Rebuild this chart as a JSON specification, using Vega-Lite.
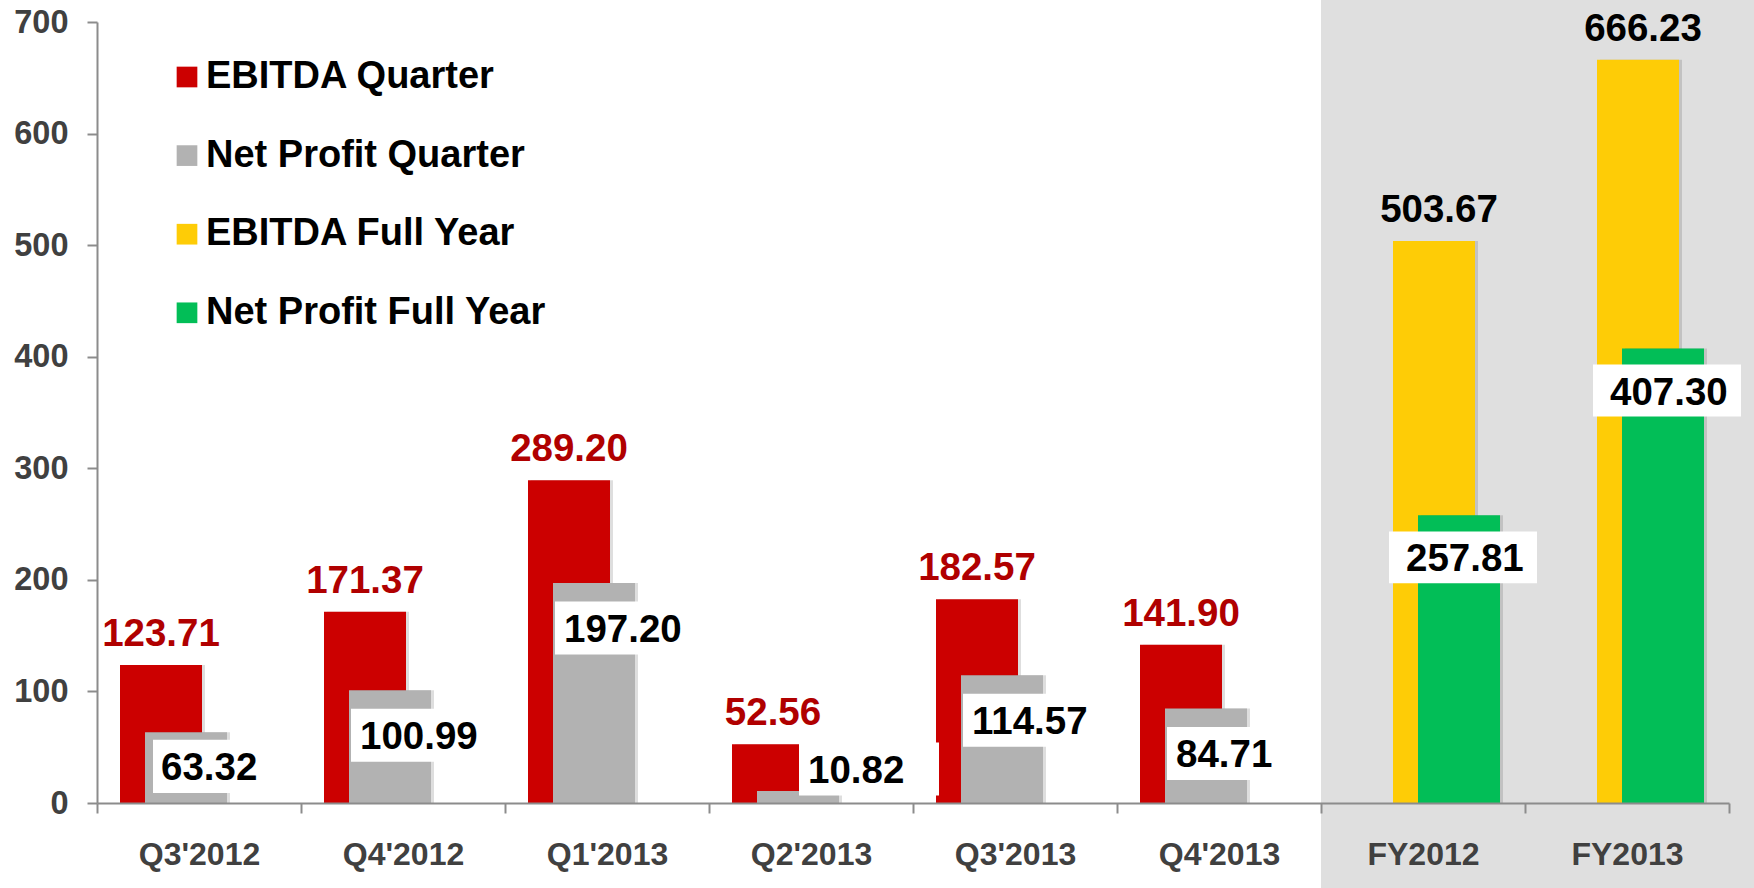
{
  "$schema": "https://vega.github.io/schema/vega-lite/v6.json",
  "width": 1632,
  "height": 781,
  "autosize": {"type": "none"},
  "padding": {"left": 97, "top": 22, "right": 25, "bottom": 85},
  "background": "white",
  "config": {"view": {"stroke": null}, "font": "Liberation Sans", "axis": {"grid": false}},
  "data": {
    "values": [
      {"period": "Q3'2012", "series": "EBITDA Quarter", "value": 123.71},
      {"period": "Q3'2012", "series": "Net Profit Quarter", "value": 63.32},
      {"period": "Q4'2012", "series": "EBITDA Quarter", "value": 171.37},
      {"period": "Q4'2012", "series": "Net Profit Quarter", "value": 100.99},
      {"period": "Q1'2013", "series": "EBITDA Quarter", "value": 289.20},
      {"period": "Q1'2013", "series": "Net Profit Quarter", "value": 197.20},
      {"period": "Q2'2013", "series": "EBITDA Quarter", "value": 52.56},
      {"period": "Q2'2013", "series": "Net Profit Quarter", "value": 10.82},
      {"period": "Q3'2013", "series": "EBITDA Quarter", "value": 182.57},
      {"period": "Q3'2013", "series": "Net Profit Quarter", "value": 114.57},
      {"period": "Q4'2013", "series": "EBITDA Quarter", "value": 141.90},
      {"period": "Q4'2013", "series": "Net Profit Quarter", "value": 84.71},
      {"period": "FY2012", "series": "EBITDA Full Year", "value": 503.67},
      {"period": "FY2012", "series": "Net Profit Full Year", "value": 257.81},
      {"period": "FY2013", "series": "EBITDA Full Year", "value": 666.23},
      {"period": "FY2013", "series": "Net Profit Full Year", "value": 407.30}
    ]
  },
  "resolve": {"axis": {"x": "independent", "y": "independent"}},
  "layer": [
    {
      "mark": {"type": "rect", "color": "#dfdfdf", "x2Offset": 25},
      "encoding": {
        "x": {"datum": "FY2012", "type": "nominal", "bandPosition": 0, "axis": null},
        "x2": {"datum": "FY2013", "bandPosition": 1},
        "y": {"datum": 722, "type": "quantitative", "axis": null},
        "y2": {"datum": -80}
      }
    },
    {
      "layer": [
        {
          "transform": [{"filter": "datum.series === 'EBITDA Quarter'"}],
          "mark": {"type": "bar", "width": 82, "xOffset": -35, "color": "#000000", "opacity": 0.13},
          "encoding": {
            "x": {
              "field": "period", "type": "nominal", "title": null,
              "scale": {"domain": ["Q3'2012", "Q4'2012", "Q1'2013", "Q2'2013", "Q3'2013", "Q4'2013", "FY2012", "FY2013"], "paddingInner": 0, "paddingOuter": 0},
              "axis": {"labelAngle": 0, "domainColor": "#8c8c8c", "domainWidth": 2, "tickColor": "#8c8c8c", "tickWidth": 2, "tickSize": 10, "tickBand": "extent", "labelFont": "Liberation Sans", "labelFontSize": 32, "labelFontWeight": "bold", "labelColor": "#404040", "labelPadding": 26, "zindex": 1}
            },
            "y": {
              "field": "value", "type": "quantitative", "title": null,
              "scale": {"domain": [0, 700], "nice": false, "zero": true},
              "axis": {"values": [0, 100, 200, 300, 400, 500, 600, 700], "domainColor": "#8c8c8c", "domainWidth": 2, "tickColor": "#8c8c8c", "tickWidth": 2, "tickSize": 10, "labelFont": "Liberation Sans", "labelFontSize": 32.5, "labelFontWeight": "bold", "labelColor": "#404040", "labelPadding": 19, "zindex": 1}
            }
          }
        },
        {
          "transform": [{"filter": "datum.series === 'EBITDA Quarter'"}],
          "mark": {"type": "bar", "width": 82, "xOffset": -38},
          "encoding": {
            "x": {"field": "period", "type": "nominal"},
            "y": {"field": "value", "type": "quantitative"},
            "color": {
              "field": "series", "type": "nominal",
              "scale": {"domain": ["EBITDA Quarter", "Net Profit Quarter", "EBITDA Full Year", "Net Profit Full Year"], "range": ["#cc0000", "#b2b2b2", "#fecc06", "#02be57"]},
              "legend": {"orient": "none", "legendX": 71, "legendY": 36, "direction": "vertical", "title": null, "symbolType": "square", "symbolSize": 428, "symbolStrokeWidth": 0, "symbolOpacity": 1, "labelFont": "Liberation Sans", "labelFontSize": 38, "labelFontWeight": "bold", "labelColor": "#000000", "labelOffset": 0, "rowPadding": 40.6, "padding": 0, "labelLimit": 0}
            }
          }
        },
        {
          "transform": [{"filter": "datum.series === 'Net Profit Quarter'"}],
          "mark": {"type": "bar", "width": 82, "xOffset": -10, "color": "#000000", "opacity": 0.13},
          "encoding": {
            "x": {"field": "period", "type": "nominal"},
            "y": {"field": "value", "type": "quantitative"}
          }
        },
        {
          "transform": [{"filter": "datum.series === 'Net Profit Quarter'"}],
          "mark": {"type": "bar", "width": 82, "xOffset": -13},
          "encoding": {
            "x": {"field": "period", "type": "nominal"},
            "y": {"field": "value", "type": "quantitative"},
            "color": {"field": "series", "type": "nominal"}
          }
        },
        {
          "transform": [{"filter": "datum.series === 'EBITDA Full Year'"}],
          "mark": {"type": "bar", "width": 82, "xOffset": 14, "color": "#000000", "opacity": 0.13},
          "encoding": {
            "x": {"field": "period", "type": "nominal"},
            "y": {"field": "value", "type": "quantitative"}
          }
        },
        {
          "transform": [{"filter": "datum.series === 'EBITDA Full Year'"}],
          "mark": {"type": "bar", "width": 82, "xOffset": 11},
          "encoding": {
            "x": {"field": "period", "type": "nominal"},
            "y": {"field": "value", "type": "quantitative"},
            "color": {"field": "series", "type": "nominal"}
          }
        },
        {
          "transform": [{"filter": "datum.series === 'Net Profit Full Year'"}],
          "mark": {"type": "bar", "width": 82, "xOffset": 39, "color": "#000000", "opacity": 0.13},
          "encoding": {
            "x": {"field": "period", "type": "nominal"},
            "y": {"field": "value", "type": "quantitative"}
          }
        },
        {
          "transform": [{"filter": "datum.series === 'Net Profit Full Year'"}],
          "mark": {"type": "bar", "width": 82, "xOffset": 36},
          "encoding": {
            "x": {"field": "period", "type": "nominal"},
            "y": {"field": "value", "type": "quantitative"},
            "color": {"field": "series", "type": "nominal"}
          }
        },
        {
          "transform": [{"filter": "datum.series === 'EBITDA Quarter'"}],
          "mark": {"type": "text", "align": "center", "baseline": "alphabetic", "dy": -19, "xOffset": -38, "font": "Liberation Sans", "fontSize": 38.5, "fontWeight": "bold", "color": "#b00000"},
          "encoding": {
            "x": {"field": "period", "type": "nominal"},
            "y": {"field": "value", "type": "quantitative"},
            "text": {"field": "value", "type": "quantitative", "format": ".2f"}
          }
        },
        {
          "transform": [{"filter": "datum.series === 'EBITDA Full Year'"}],
          "mark": {"type": "text", "align": "center", "baseline": "alphabetic", "dy": -19, "xOffset": 16, "font": "Liberation Sans", "fontSize": 38.5, "fontWeight": "bold", "color": "#000000"},
          "encoding": {
            "x": {"field": "period", "type": "nominal"},
            "y": {"field": "value", "type": "quantitative"},
            "text": {"field": "value", "type": "quantitative", "format": ".2f"}
          }
        },
        {
          "transform": [{"filter": "datum.series === 'Net Profit Quarter' && datum.value >= 70"}],
          "mark": {"type": "point", "shape": "M0,-0.379H2V0.379H0Z", "size": 19600, "filled": true, "color": "#ffffff", "opacity": 1, "strokeWidth": 0, "xOffset": -52, "yOffset": 45},
          "encoding": {
            "x": {"field": "period", "type": "nominal"},
            "y": {"field": "value", "type": "quantitative"}
          }
        },
        {
          "transform": [{"filter": "datum.series === 'Net Profit Quarter' && datum.value >= 20 && datum.value < 70"}],
          "mark": {"type": "point", "shape": "M0,-0.379H2V0.379H0Z", "size": 19600, "filled": true, "color": "#ffffff", "opacity": 1, "strokeWidth": 0, "xOffset": -46, "yOffset": 34},
          "encoding": {
            "x": {"field": "period", "type": "nominal"},
            "y": {"field": "value", "type": "quantitative"}
          }
        },
        {
          "transform": [{"filter": "datum.series === 'Net Profit Quarter' && datum.value < 20"}],
          "mark": {"type": "point", "shape": "M0,-0.379H2V0.379H0Z", "size": 19600, "filled": true, "color": "#ffffff", "opacity": 1, "strokeWidth": 0, "xOffset": -12, "yOffset": -22},
          "encoding": {
            "x": {"field": "period", "type": "nominal"},
            "y": {"field": "value", "type": "quantitative"}
          }
        },
        {
          "transform": [{"filter": "datum.series === 'Net Profit Full Year'"}],
          "mark": {"type": "point", "shape": "M0,-0.351H2V0.351H0Z", "size": 21904, "filled": true, "color": "#ffffff", "opacity": 1, "strokeWidth": 0, "xOffset": -34, "yOffset": 42},
          "encoding": {
            "x": {"field": "period", "type": "nominal"},
            "y": {"field": "value", "type": "quantitative"}
          }
        },
        {
          "transform": [{"filter": "datum.series === 'Net Profit Quarter' && datum.value >= 70"}],
          "mark": {"type": "text", "align": "left", "baseline": "middle", "xOffset": -43, "yOffset": 47, "font": "Liberation Sans", "fontSize": 38.5, "fontWeight": "bold", "color": "#000000"},
          "encoding": {
            "x": {"field": "period", "type": "nominal"},
            "y": {"field": "value", "type": "quantitative"},
            "text": {"field": "value", "type": "quantitative", "format": ".2f"}
          }
        },
        {
          "transform": [{"filter": "datum.series === 'Net Profit Quarter' && datum.value >= 20 && datum.value < 70"}],
          "mark": {"type": "text", "align": "left", "baseline": "middle", "xOffset": -38, "yOffset": 36, "font": "Liberation Sans", "fontSize": 38.5, "fontWeight": "bold", "color": "#000000"},
          "encoding": {
            "x": {"field": "period", "type": "nominal"},
            "y": {"field": "value", "type": "quantitative"},
            "text": {"field": "value", "type": "quantitative", "format": ".2f"}
          }
        },
        {
          "transform": [{"filter": "datum.series === 'Net Profit Quarter' && datum.value < 20"}],
          "mark": {"type": "text", "align": "left", "baseline": "middle", "xOffset": -3, "yOffset": -20, "font": "Liberation Sans", "fontSize": 38.5, "fontWeight": "bold", "color": "#000000"},
          "encoding": {
            "x": {"field": "period", "type": "nominal"},
            "y": {"field": "value", "type": "quantitative"},
            "text": {"field": "value", "type": "quantitative", "format": ".2f"}
          }
        },
        {
          "transform": [{"filter": "datum.series === 'Net Profit Full Year'"}],
          "mark": {"type": "text", "align": "left", "baseline": "middle", "xOffset": -17, "yOffset": 44, "font": "Liberation Sans", "fontSize": 38.5, "fontWeight": "bold", "color": "#000000"},
          "encoding": {
            "x": {"field": "period", "type": "nominal"},
            "y": {"field": "value", "type": "quantitative"},
            "text": {"field": "value", "type": "quantitative", "format": ".2f"}
          }
        }
      ]
    }
  ]
}
